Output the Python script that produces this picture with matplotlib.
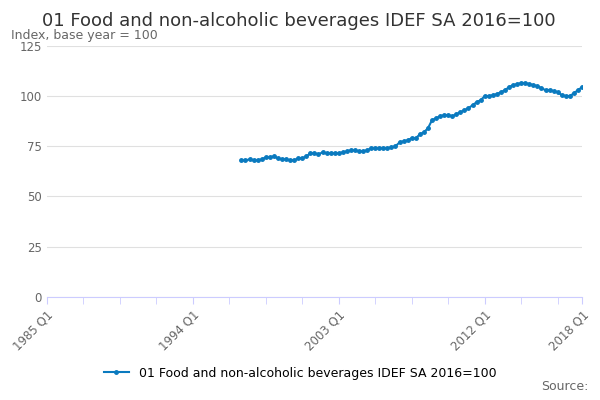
import matplotlib
matplotlib.use("Agg")
import matplotlib.pyplot as plt
import numpy as np

title = "01 Food and non-alcoholic beverages IDEF SA 2016=100"
start_q = 48  # 1997 Q1, quarters since 1985 Q1
values = [68,68,68.5,68, 68,68.5,69.5,69.5, 70,69,68.5,68.5, 68,68,69,69,
          70,71.5,71.5,71, 72,71.5,71.5,71.5, 71.5,72,72.5,73, 73,72.5,72.5,73,
          74,74,74,74, 74,74.5,75,77, 77.5,78,79,79, 81,82,84,88,
          89,90,90.5,90.5, 90,91,92,93, 94,95.5,97,98, 100,100,100.5,101,
          102,103,104.5,105.5, 106,106.5,106.5,106, 105.5,105,104,103,
          103,102.5,102,100.5, 100,100,101.5,103, 104.5]
tick_pos = [0, 36, 72, 108, 132]
tick_labels = ["1985 Q1", "1994 Q1", "2003 Q1", "2012 Q1", "2018 Q1"]

x = np.arange(start_q, start_q + len(values))
fig = plt.figure(figsize=(6, 4), dpi=100)
ax = fig.add_axes([0.078, 0.258, 0.892, 0.627])
color = "#0a7abf"
ax.plot(x, values, color=color, marker="o", markersize=2.5, linewidth=1.5,
        label=title)
ax.set_xlim(0, 132)
ax.set_ylim(0, 125)
ax.set_yticks([0, 25, 50, 75, 100, 125])
ax.yaxis.grid(True, color="#e0e0e0", linewidth=0.8)
ax.set_axisbelow(True)
ax.set_xticks(tick_pos)
ax.set_xticklabels(tick_labels, rotation=45, ha="right", rotation_mode="anchor")
ax.set_xticks(np.arange(0, 132, 9), minor=True)
ax.tick_params(axis="x", which="both", length=5, color="#ccccff", labelcolor="#666666", labelsize=8.5)
ax.tick_params(axis="y", length=0, labelcolor="#666666", labelsize=8.5)
for s in ["top", "right", "left"]:
    ax.spines[s].set_visible(False)
ax.spines["bottom"].set_color("#ccccff")
fig.text(0.07, 0.935, title, fontsize=13, color="#333333")
fig.text(0.018, 0.91, "Index, base year = 100", fontsize=9, color="#666666", va="center")
fig.legend(loc="center", bbox_to_anchor=(0.5, 0.067), frameon=False, fontsize=9,
           handlelength=2)
fig.text(0.98, 0.025, "Source:", fontsize=9, color="#666666", ha="right")
fig.savefig("out.png")
